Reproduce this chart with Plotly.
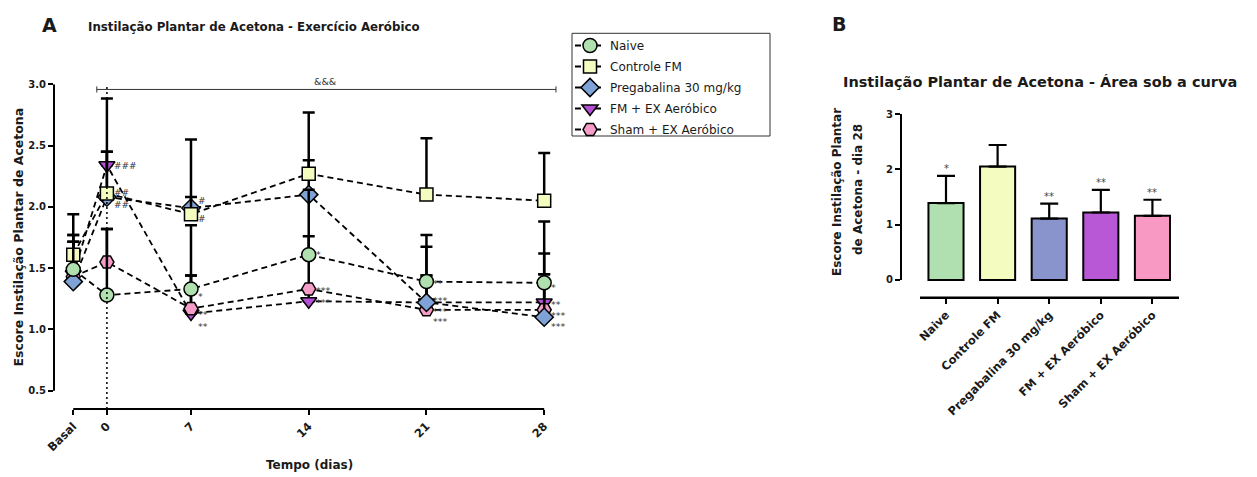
import plotly.graph_objects as go

# the page body keeps an 8px default margin; the figure starts 8px in from the top-left corner
OFF = 8
W, H = 1257 - OFF, 477 - OFF
FONT = "DejaVu Sans"
INK = "#1a1a1a"

# ---------------- Panel A data ----------------
time_labels = ["Basal", "0", "7", "14", "21", "28"]
time_axis_pos = [-2, 0, 5, 12, 19, 26]  # uneven spacing of the original time axis

naive = [1.49, 1.28, 1.33, 1.61, 1.39, 1.38]
naive_err = [0.28, 0.54, 0.52, 0.53, 0.38, 0.50]
controle = [1.61, 2.11, 1.94, 2.27, 2.10, 2.05]
controle_err = [0.33, 0.34, 0.61, 0.50, 0.46, 0.39]
pregabalina = [1.39, 2.08, 1.99, 2.10, 1.22, 1.10]
pregabalina_err = [0.325, 0.37, 0.09, 0.28, 0.455, 0.52]
fm_ex = [1.45, 2.34, 1.13, 1.23, 1.22, 1.22]
fm_ex_err = [0.265, 0.545, 0.31, 0.10, 0.22, 0.23]
sham = [1.43, 1.55, 1.17, 1.33, 1.16, 1.16]
sham_err = [0.34, 0.27, 0.27, 0.43, 0.28, 0.29]

# significance labels: (time label, text, y value where the label sits)
sig_labels_a = [
    ("0", "###", 2.33), ("0", "##", 2.11), ("0", "##", 2.015),
    ("7", "#", 2.047), ("7", "#", 1.90), ("7", "*", 1.289), ("7", "**", 1.136), ("7", "**", 1.044),
    ("14", "*", 1.631), ("14", "***", 1.330), ("14", "***", 1.232),
    ("21", "**", 1.387), ("21", "***", 1.255), ("21", "***", 1.166), ("21", "***", 1.077),
    ("28", "*", 1.362), ("28", "**", 1.222), ("28", "***", 1.126), ("28", "***", 1.038),
]
bracket_text = "&&&"
bracket_from, bracket_to, bracket_level = "0", "28", 2.958

# ---------------- Panel B data ----------------
groups = ["Naive", "Controle FM", "Pregabalina 30 mg/kg", "FM + EX Aeróbico", "Sham + EX Aeróbico"]
auc = [1.39, 2.05, 1.11, 1.22, 1.16]
auc_err = [0.49, 0.39, 0.27, 0.41, 0.29]
auc_stars = ["*", "", "**", "**", "**"]

# ---------------- styling ----------------
bar_colors = ["#b0e0b0", "#f5fcc0", "#8a94cc", "#b858d6", "#f899c4"]
series = [
    # name, values, errors, symbol, color, size, legend rank
    ("FM + EX Aeróbico", fm_ex, fm_ex_err, "triangle-down", "#b44fd6", 14, 4),
    ("Sham + EX Aeróbico", sham, sham_err, "hexagon2", "#f59cc8", 14, 5),
    ("Pregabalina 30 mg/kg", pregabalina, pregabalina_err, "diamond", "#7fa3d6", 14, 3),
    ("Controle FM", controle, controle_err, "square", "#f5fcc0", 13, 2),
    ("Naive", naive, naive_err, "circle", "#b0e0b0", 14, 1),
]


def px_x(p):
    return (p - OFF) / W


def px_y(p):
    return 1 - (p - OFF) / H


A_LEFT, A_RIGHT, A_TOP, A_BOTTOM = 54, 560, 84.3, 409
A_XRANGE = [-3.145, 26.94]
A_YRANGE = [0.3507, 3.0]
B_LEFT, B_RIGHT, B_TOP, B_BOTTOM = 901, 1179, 114, 297.7
B_XRANGE = [-0.872, 4.515]
B_YRANGE = [-0.32, 3.0]

pos = dict(zip(time_labels, time_axis_pos))

fig = go.Figure()

for name, vals, errs, sym, color, size, rank in series:
    fig.add_trace(go.Scatter(
        x=time_axis_pos, y=vals, mode="lines+markers", name=name,
        line=dict(color="black", width=1.8, dash="6px,4px"),
        marker=dict(symbol=sym, size=size, color=color, line=dict(color="black", width=1.5)),
        error_y=dict(type="data", array=errs, arrayminus=[0] * len(errs), symmetric=False,
                     color="black", thickness=2.5, width=6),
        legendrank=rank, legendgroup=name, xaxis="x", yaxis="y",
    ))

fig.add_trace(go.Bar(
    x=groups, y=auc, width=0.68, showlegend=False,
    marker=dict(color=bar_colors, line=dict(color="black", width=2)),
    error_y=dict(type="data", array=auc_err, arrayminus=[0] * len(auc_err), symmetric=False,
                 color="black", thickness=2.2, width=9),
    xaxis="x2", yaxis="y2",
))

tick_font_y = dict(family=FONT, size=10, color=INK, weight="bold")
tick_font_x = dict(family=FONT, size=11.5, color=INK, weight="bold")
common_axis = dict(showgrid=False, zeroline=False, showline=False, ticks="outside",
                   ticklen=5, tickwidth=2, tickcolor="black", automargin=False, fixedrange=True)

fig.update_layout(
    width=W, height=H, autosize=False,
    margin=dict(l=0, r=0, t=0, b=0),
    paper_bgcolor="white", plot_bgcolor="white",
    xaxis=dict(domain=[px_x(A_LEFT), px_x(A_RIGHT)], range=A_XRANGE, anchor="y",
               tickmode="array", tickvals=time_axis_pos, ticktext=time_labels,
               tickangle=-45, tickfont=tick_font_x, **common_axis),
    yaxis=dict(domain=[px_y(A_BOTTOM), px_y(A_TOP)], range=A_YRANGE, anchor="x",
               tickmode="array", tickvals=[0.5, 1.0, 1.5, 2.0, 2.5, 3.0],
               ticktext=["0.5", "1.0", "1.5", "2.0", "2.5", "3.0"],
               tickfont=tick_font_y, **common_axis),
    xaxis2=dict(domain=[px_x(B_LEFT), px_x(B_RIGHT)], range=B_XRANGE, anchor="y2",
                type="category", tickangle=-45, tickfont=tick_font_x, **common_axis),
    yaxis2=dict(domain=[px_y(B_BOTTOM), px_y(B_TOP)], range=B_YRANGE, anchor="x2",
                tickmode="array", tickvals=[0, 1, 2, 3], ticktext=["0", "1", "2", "3"],
                tickfont=tick_font_y, **common_axis),
    legend=dict(x=px_x(570), y=px_y(31), xanchor="left", yanchor="top",
                bgcolor="rgba(0,0,0,0)", borderwidth=0, tracegroupgap=2,
                font=dict(family=FONT, size=12, color=INK)),
    showlegend=True,
)

shapes = [
    # panel A axes
    dict(type="line", xref="paper", yref="y", x0=px_x(A_LEFT), x1=px_x(A_LEFT), y0=0.5, y1=3.0,
         line=dict(color="black", width=2)),
    dict(type="line", xref="x", yref="paper", x0=pos["Basal"], x1=pos["28"], y0=px_y(A_BOTTOM), y1=px_y(A_BOTTOM),
         line=dict(color="black", width=2)),
    # dotted reference line at day 0
    dict(type="line", xref="x", yref="y", x0=pos["0"], x1=pos["0"], y0=A_YRANGE[0], y1=3.0,
         line=dict(color="black", width=1.5, dash="2px,3px")),
    # bracket
    dict(type="line", xref="x", yref="y", x0=pos[bracket_from] - 0.6, x1=pos[bracket_to] + 0.7,
         y0=bracket_level, y1=bracket_level, line=dict(color="#333", width=1)),
    dict(type="line", xref="x", yref="y", x0=pos[bracket_from] - 0.6, x1=pos[bracket_from] - 0.6,
         y0=bracket_level - 0.025, y1=bracket_level + 0.025, line=dict(color="#333", width=1)),
    dict(type="line", xref="x", yref="y", x0=pos[bracket_to] + 0.7, x1=pos[bracket_to] + 0.7,
         y0=bracket_level - 0.025, y1=bracket_level + 0.025, line=dict(color="#333", width=1)),
    # panel B axes
    dict(type="line", xref="paper", yref="y2", x0=px_x(B_LEFT), x1=px_x(B_LEFT), y0=0, y1=3,
         line=dict(color="black", width=2)),
    dict(type="line", xref="x2", yref="paper", x0=-0.504, x1=B_XRANGE[1], y0=px_y(B_BOTTOM), y1=px_y(B_BOTTOM),
         line=dict(color="black", width=2.5)),
    # legend frame
    dict(type="rect", xref="paper", yref="paper", x0=px_x(572), x1=px_x(770), y0=px_y(136), y1=px_y(33.3),
         line=dict(color="#333", width=1)),
]
fig.update_layout(shapes=shapes)

ann = []


def text(x, y, s, size, bold=True, xanchor="center", yanchor="middle", angle=0, color=INK,
         xref="paper", yref="paper", xshift=0, yshift=0):
    ann.append(dict(x=x, y=y, xref=xref, yref=yref, text=s, showarrow=False,
                    xanchor=xanchor, yanchor=yanchor, textangle=angle, xshift=xshift, yshift=yshift,
                    borderpad=0,
                    font=dict(family=FONT, size=size, color=color, weight="bold" if bold else "normal")))


# panel letters and titles
text(px_x(49), px_y(24.5), "A", 19)
text(px_x(87), px_y(26.5), "Instilação Plantar de Acetona - Exercício Aeróbico", 11.8, xanchor="left")
text(px_x(839), px_y(24), "B", 19)
text(px_x(1040), px_y(81.7), "Instilação Plantar de Acetona - Área sob a curva", 14.5)

# axis titles
text(px_x(18), px_y(237.5), "Escore Instilação Plantar de Acetona", 12.5, angle=-90)
text(px_x(309), px_y(465), "Tempo (dias)", 12)
text(px_x(837), px_y(192), "Escore Instilação Plantar", 12, angle=-90)
text(px_x(858), px_y(190), "de Acetona - dia 28", 12, angle=-90)

# significance labels panel A
for t, s, yv in sig_labels_a:
    is_star = s.startswith("*")
    text(pos[t], yv, s, 9.5 if is_star else 9, bold=False, xanchor="left", color="#333",
         xref="x", yref="y", xshift=6, yshift=-2 if is_star else 0)

# bracket label
text((pos[bracket_from] + pos[bracket_to]) / 2, bracket_level, bracket_text, 9.5, bold=False,
     yanchor="bottom", color="#333", xref="x", yref="y", yshift=1)

# stars panel B
for g, v, e, s in zip(groups, auc, auc_err, auc_stars):
    if s:
        text(g, v + e, s, 10, bold=False, yanchor="bottom", color="#444", xref="x2", yref="y2", yshift=1)

fig.update_layout(annotations=ann)

fig.write_html("out.html")
